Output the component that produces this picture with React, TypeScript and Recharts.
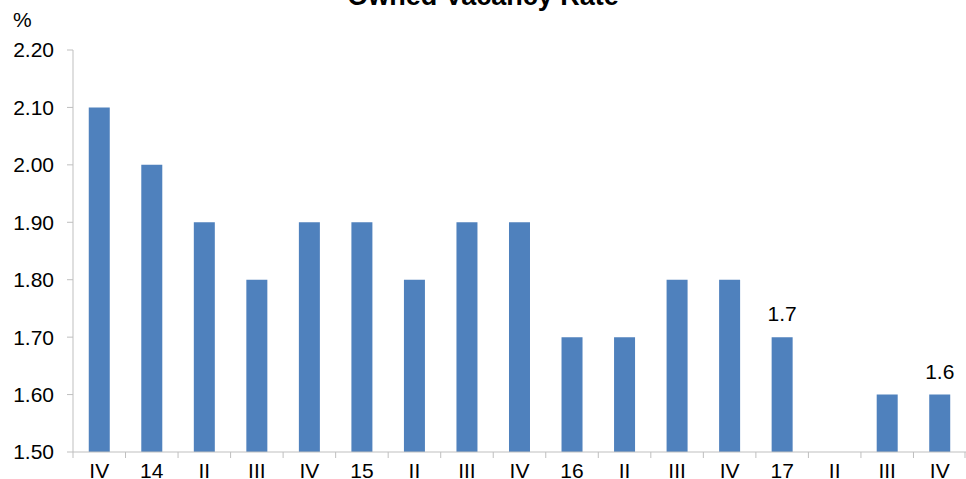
import { BarChart, Bar, XAxis, YAxis, LabelList } from "recharts";

const categories = ["IV", "14", "II", "III", "IV", "15", "II", "III", "IV", "16", "II", "III", "IV", "17", "II", "III", "IV"];
const vacancy = [2.1, 2.0, 1.9, 1.8, 1.9, 1.9, 1.8, 1.9, 1.9, 1.7, 1.7, 1.8, 1.8, 1.7, null, 1.6, 1.6];
const shownLabels = [null, null, null, null, null, null, null, null, null, null, null, null, null, "1.7", null, null, "1.6"];
const yTicks = [1.5, 1.6, 1.7, 1.8, 1.9, 2.0, 2.1, 2.2];

const data = categories.map((c, i) => ({ cat: c, value: vacancy[i], label: shownLabels[i] }));

const W = 966;
const H = 479;
const LEFT = 73;
const TOP = 50;
const BOTTOM = 27;
const BAND = (W - LEFT) / categories.length;
const FONT = "Liberation Sans, Arial, sans-serif";
const AXIS = "#bfbfbf";

const XTick = (props: any) => {
  const { x, y, payload, index } = props;
  return (
    <g>
      <line x1={x - BAND / 2} x2={x - BAND / 2} y1={y} y2={y + 6} stroke={AXIS} />
      {index === categories.length - 1 && (
        <line x1={x + BAND / 2 - 1} x2={x + BAND / 2 - 1} y1={y} y2={y + 6} stroke={AXIS} />
      )}
      <text x={x} y={y + 26} textAnchor="middle" fontSize={21} fontFamily={FONT} fill="#000">
        {payload.value}
      </text>
    </g>
  );
};

const renderLabel = (props: any) => {
  const { x, y, width, value } = props;
  if (!value) return null;
  return (
    <text x={x + width / 2} y={y - 16} textAnchor="middle" fontSize={21} fontFamily={FONT} fill="#000">
      {value}
    </text>
  );
};

export default function App() {
  return (
    <div style={{ position: "relative", width: W, height: H, overflow: "hidden", background: "#fff" }}>
      <style>{`body{margin:0}`}</style>
      <BarChart
        width={W}
        height={H}
        data={data}
        margin={{ top: TOP, right: 0, bottom: 0, left: 0 }}
        barCategoryGap="30%"
      >
        <text x={483} y={5} textAnchor="middle" fontSize={27} fontWeight="bold" fontFamily={FONT} fill="#000">
          Owned Vacancy Rate
        </text>
        <text x={13} y={27} fontSize={21} fontFamily={FONT} fill="#000">
          %
        </text>
        <XAxis
          dataKey="cat"
          height={BOTTOM}
          interval={0}
          tickLine={false}
          tickSize={0}
          tickMargin={0}
          stroke={AXIS}
          tick={<XTick />}
        />
        <YAxis
          width={LEFT}
          domain={[1.5, 2.2]}
          ticks={yTicks}
          allowDataOverflow
          tickFormatter={(v: number) => v.toFixed(2)}
          tick={{ fill: "#000", fontSize: 21, fontFamily: FONT }}
          tickSize={6}
          tickMargin={13}
          stroke={AXIS}
        />
        <Bar dataKey="value" fill="#4f81bd" isAnimationActive={false}>
          <LabelList dataKey="label" content={renderLabel} />
        </Bar>
      </BarChart>
    </div>
  );
}
